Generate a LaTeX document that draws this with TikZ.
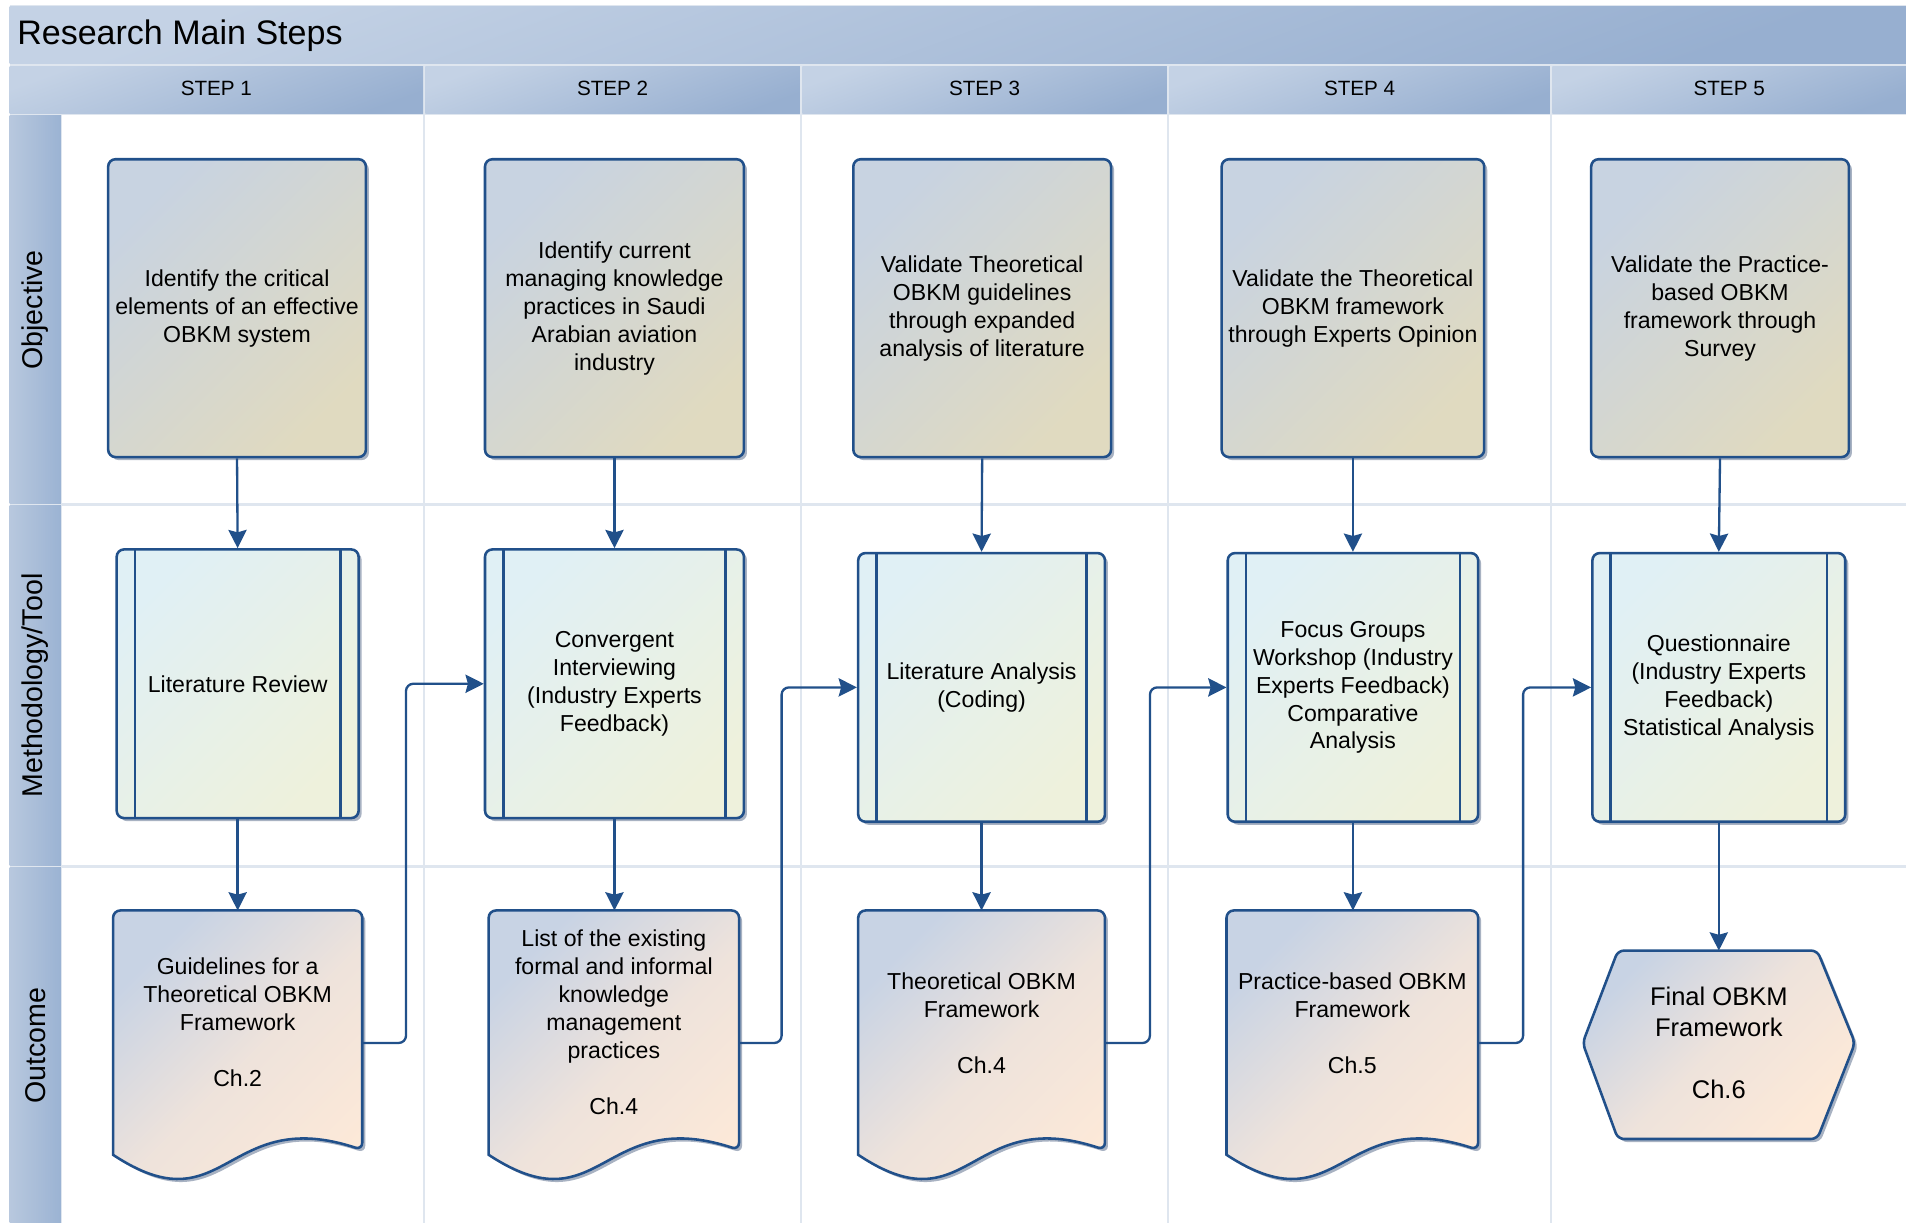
\documentclass[tikz,border=0pt]{standalone}
\usepackage{fontspec}
\setmainfont{Liberation Sans}
\usetikzlibrary{arrows.meta,shadows}
\definecolor{bord}{HTML}{21508A}
\definecolor{gridc}{HTML}{DFE6EF}
\definecolor{hdrA}{HTML}{C4D2E5}
\definecolor{hdrB}{HTML}{97AFD0}
\definecolor{laneA}{HTML}{B8C8DE}
\definecolor{laneB}{HTML}{9BB3D3}
\definecolor{objA}{HTML}{C8D3E1}
\definecolor{objB}{HTML}{E0DAC0}
\definecolor{metA}{HTML}{E0F0F5}
\definecolor{metB}{HTML}{EEF1DC}
\definecolor{outA}{HTML}{C8D3E4}
\definecolor{outB}{HTML}{FDE9D8}
\definecolor{shadowc}{HTML}{A8B2C2}
\newcommand{\mydoc}[3]{%
  \pgfmathsetmacro{\mydw}{#3-#1}%
  \draw[docbox] (#1,#2+201) [rounded corners=6pt] -- (#1,#2) -- (#3,#2) -- (#3,#2+197) [sharp corners]
    .. controls (#1+0.45*\mydw,#2+160) and (#1+0.45*\mydw,#2+262) .. (#1,#2+201) -- cycle;}
\begin{document}
\begin{tikzpicture}[x=1pt,y=-1pt,
  every node/.style={inner sep=0pt, text=black},
  txt/.style={align=center, font=\fontsize{19}{23}\selectfont},
  hdr/.style={top color=hdrA, bottom color=hdrB, shading angle=20},
  lanehdr/.style={left color=laneA, right color=laneB},
  box/.style={draw=bord, line width=2.1pt, rounded corners=6pt, align=center,
    font=\fontsize{19}{23}\selectfont,
    drop shadow={shadow xshift=2.5pt, shadow yshift=-2.5pt, fill=shadowc, opacity=1}},
  objbox/.style={box, top color=objA, bottom color=objB, shading angle=45, minimum height=245pt},
  methbox/.style={box, top color=metA, bottom color=metB, shading angle=45, minimum height=221pt,
    path picture={
      \draw[bord, line width=2.1pt] ([xshift=15pt]path picture bounding box.north west) -- ([xshift=15pt]path picture bounding box.south west);
      \draw[bord, line width=2.1pt] ([xshift=-15pt]path picture bounding box.north east) -- ([xshift=-15pt]path picture bounding box.south east);}},
  docbox/.style={draw=bord, line width=2.1pt, top color=outA, bottom color=outB, middle color=outB!72!outA, shading angle=45,
    drop shadow={shadow xshift=2.5pt, shadow yshift=-2.5pt, fill=shadowc, opacity=1}},
  arr/.style={draw=bord, line width=1.9pt, -{Stealth[length=15pt,width=15pt,inset=2pt]}},
  stepfont/.style={font=\fontsize{17}{20}\selectfont},
  lanefont/.style={font=\fontsize{23.5}{26}\selectfont, rotate=90},
]
\useasboundingbox (0,0) rectangle (1568,1006);
\fill[white] (0,0) rectangle (1568,1006);
% ---- background frame ----
\fill[gridc] (8,4) rectangle (1568,1006);
\fill[white] (51,95) rectangle (1568,1006);
% title band
\path[hdr] (8,5) rectangle (1568,52);
\node[anchor=west, font=\fontsize{28}{32}\selectfont] (title) at (14,29) {Research Main Steps};
% step headers
\path[hdr] (8,55) rectangle (348,93);
\path[hdr] (350,55) rectangle (658,93);
\path[hdr] (660,55) rectangle (960,93);
\path[hdr] (962,55) rectangle (1275,93);
\path[hdr] (1277,55) rectangle (1568,93);
\node[stepfont] (s1) at (178,73) {STEP 1};
\node[stepfont] (s2) at (504,73) {STEP 2};
\node[stepfont] (s3) at (810,73) {STEP 3};
\node[stepfont] (s4) at (1118.5,73) {STEP 4};
\node[stepfont] (s5) at (1422.5,73) {STEP 5};
% lane headers
\path[lanehdr] (8,95) rectangle (50,414);
\path[lanehdr] (8,416) rectangle (50,712);
\path[lanehdr] (8,714) rectangle (50,1006);
\node[lanefont] (l1) at (29,255) {Objective};
\node[lanefont] (l2) at (29,564) {Methodology/Tool};
\node[lanefont] (l3) at (29,860) {Outcome};
% grid lines
\draw[gridc, line width=2pt] (51,415) -- (1568,415) (51,713) -- (1568,713);
\draw[gridc, line width=2pt] (349,95) -- (349,1006) (659,95) -- (659,1006) (961,95) -- (961,1006) (1276,95) -- (1276,1006);
% ---- objective boxes ----
\node[objbox, minimum width=212pt] (o1) at (195,253.5) {Identify the critical\\elements of an effective\\OBKM system};
\node[objbox, minimum width=213pt] (o2) at (505.5,253.5) {Identify current\\managing knowledge\\practices in Saudi\\Arabian aviation\\industry};
\node[objbox, minimum width=212pt] (o3) at (808,253.5) {Validate Theoretical\\OBKM guidelines\\through expanded\\analysis of literature};
\node[objbox, minimum width=216pt] (o4) at (1113,253.5) {Validate the Theoretical\\OBKM framework\\through Experts Opinion};
\node[objbox, minimum width=212pt] (o5) at (1415,253.5) {Validate the Practice-\\based OBKM\\framework through\\Survey};
% ---- methodology boxes ----
\node[methbox, minimum width=199pt] (m1) at (195.5,562.5) {Literature Review};
\node[methbox, minimum width=213pt] (m2) at (505.5,562.5) {Convergent\\Interviewing\\(Industry Experts\\Feedback)};
\node[methbox, minimum width=203pt] (m3) at (807.5,565.5) {Literature Analysis\\(Coding)};
\node[methbox, minimum width=206pt] (m4) at (1113,565.5) {Focus Groups\\Workshop (Industry\\Experts Feedback)\\Comparative\\Analysis};
\node[methbox, minimum width=208pt] (m5) at (1414,565.5) {Questionnaire\\(Industry Experts\\Feedback)\\Statistical Analysis};
% ---- outcome documents ----
\mydoc{93}{749}{298}
\mydoc{402}{749}{608}
\mydoc{706}{749}{909}
\mydoc{1009}{749}{1216}
\draw[docbox, rounded corners=5pt] (1302,858) -- (1331,782) -- (1495,782) -- (1526,858) -- (1495,937) -- (1331,937) -- cycle;
\node[txt] (d1) at (195.5,841) {Guidelines for a\\Theoretical OBKM\\Framework\\[23pt]Ch.2};
\node[txt] (d2) at (505,841) {List of the existing\\formal and informal\\knowledge\\management\\practices\\[23pt]Ch.4};
\node[txt] (d3) at (807.5,841.5) {Theoretical OBKM\\Framework\\[23pt]Ch.4};
\node[txt] (d4) at (1112.5,841.5) {Practice-based OBKM\\Framework\\[23pt]Ch.5};
\node[align=center, font=\fontsize{21}{25.5}\selectfont] (d5) at (1414,858) {Final OBKM\\Framework\\[25.5pt]Ch.6};
\coordinate (d1t) at (195.5,749);
\coordinate (d2t) at (505.5,749);
\coordinate (d3t) at (807.5,749);
\coordinate (d4t) at (1113,749);
\coordinate (d5t) at (1414,782);
\coordinate (d1r) at (298,858);
\coordinate (d2r) at (608,858);
\coordinate (d3r) at (909,858);
\coordinate (d4r) at (1216,858);
% ---- connectors ----
\draw[arr] (o1.south) -- (m1.north);
\draw[arr] (o2.south) -- (m2.north);
\draw[arr] (o3.south) -- (m3.north);
\draw[arr] (o4.south) -- (m4.north);
\draw[arr] (o5.south) -- (m5.north);
\draw[arr] (m1.south) -- (d1t);
\draw[arr] (m2.south) -- (d2t);
\draw[arr] (m3.south) -- (d3t);
\draw[arr] (m4.south) -- (d4t);
\draw[arr] (m5.south) -- (d5t);
\draw[arr, rounded corners=6pt] (d1r) -- ++(36,0) |- (m2.west);
\draw[arr, rounded corners=6pt] (d2r) -- ++(35,0) |- (m3.west);
\draw[arr, rounded corners=6pt] (d3r) -- ++(37,0) |- (m4.west);
\draw[arr, rounded corners=6pt] (d4r) -- ++(37,0) |- (m5.west);
\end{tikzpicture}
\end{document}
